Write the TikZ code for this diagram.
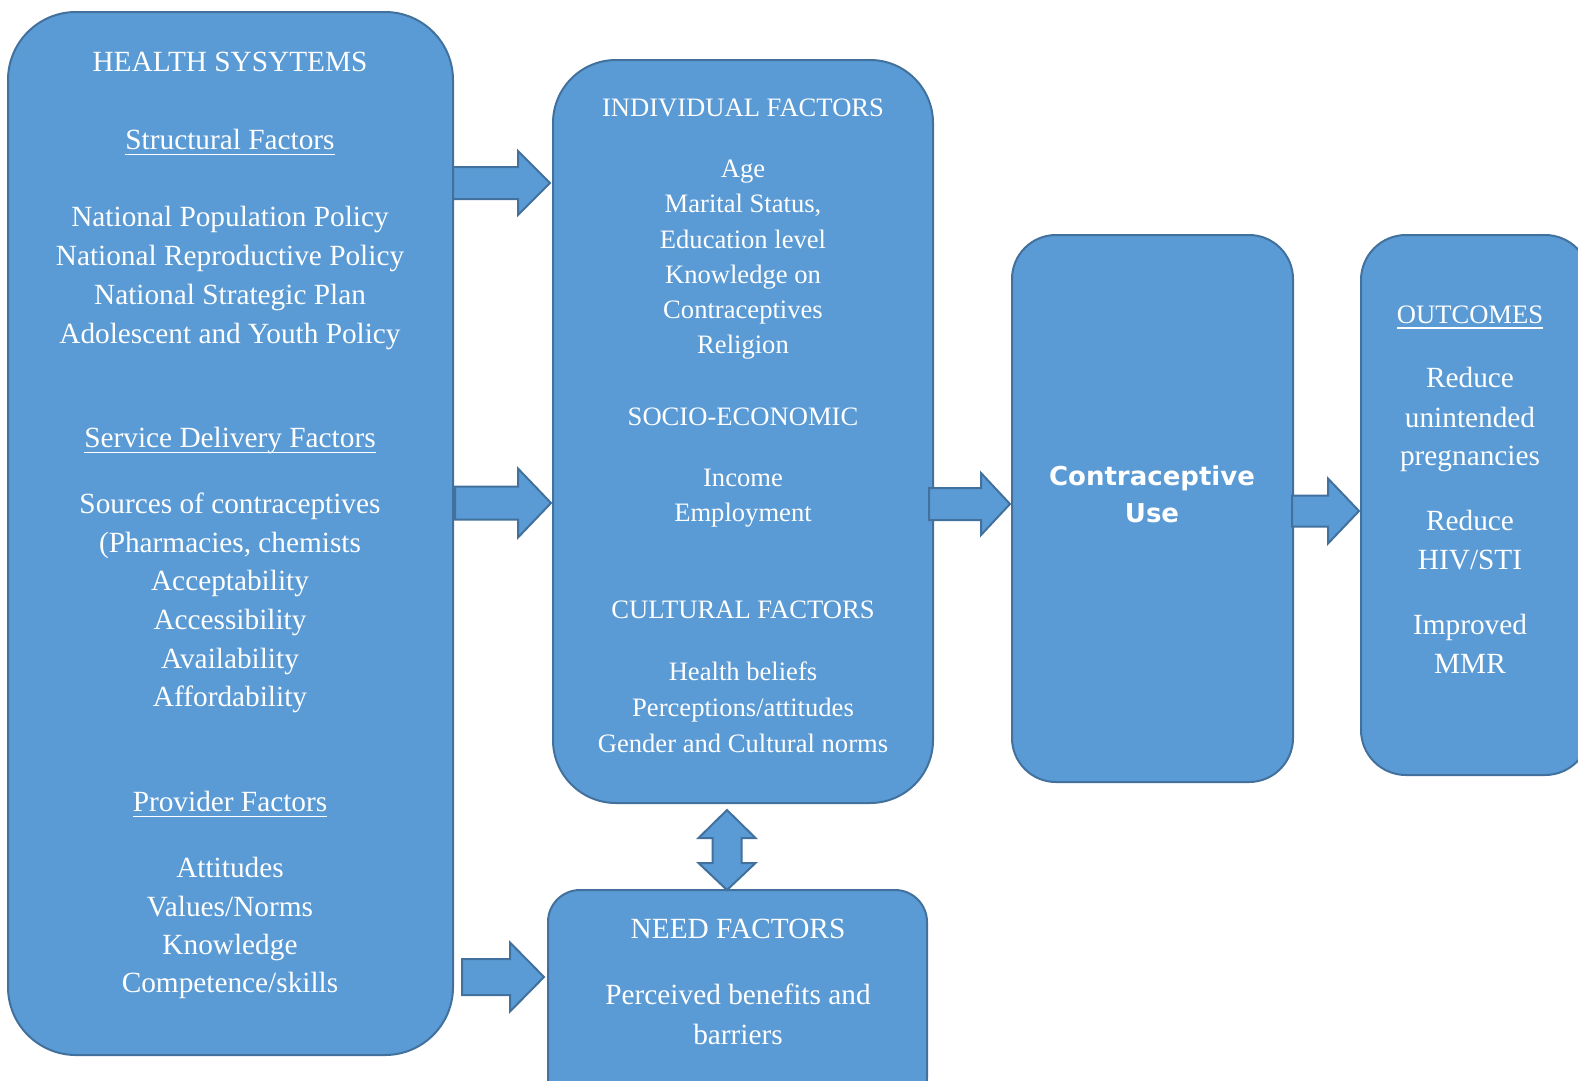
\documentclass[tikz,border=0pt]{standalone}
\usepackage{fontspec}
\setmainfont{Liberation Serif}
\newfontfamily\cufont{DejaVu Sans}
\usetikzlibrary{calc}
\definecolor{boxfill}{HTML}{5B9BD5}
\definecolor{boxline}{HTML}{41719C}
\newcommand\ulx[1]{\setbox0\hbox{#1}\rlap{\rule[-0.2em]{\wd0}{0.055em}}\box0}
\newcommand\hbarrow[5]{\draw[barrow] ($(#1)+(0,-#3)$) -- ($(#2)+(-#5,-#3)$) -- ($(#2)+(-#5,-#4)$) -- (#2) -- ($(#2)+(-#5,#4)$) -- ($(#2)+(-#5,#3)$) -- ($(#1)+(0,#3)$) -- cycle;}
\begin{document}
\begin{tikzpicture}[x=1pt,y=-1pt,
  box/.style={draw=boxline, fill=boxfill, line width=2, inner sep=0, rectangle},
  barrow/.style={draw=boxline, fill=boxfill, line width=2, line join=miter},
  big/.style={font=\fontsize{29.3}{35}\selectfont, text=white, anchor=base, inner sep=0},
  small/.style={font=\fontsize{26.6}{32}\selectfont, text=white, anchor=base, inner sep=0},
  cu/.style={font=\cufont\bfseries\fontsize{26}{32}\selectfont, text=white, anchor=base, inner sep=0}]
\useasboundingbox (0,0) rectangle (1578,1080);
\clip (0,0) rectangle (1578,1080);
\fill[white] (0,0) rectangle (1578,1080);

% boxes
\node[box, rounded corners=68, minimum width=445, minimum height=1043] (hs) at (230.5,533.5) {};
\node[box, rounded corners=63, minimum width=380, minimum height=743] (ind) at (743,431.5) {};
\node[box, rounded corners=32, minimum width=379, minimum height=220] (need) at (737.5,1000) {};
\node[box, rounded corners=44, minimum width=281, minimum height=547] (cuse) at (1152.5,508.5) {};
\node[box, rounded corners=45, minimum width=229, minimum height=540] (out) at (1475.5,505) {};

% health systems texts
\node[big] (hsT) at (230,71.6) {HEALTH SYSYTEMS};
\node[big] (hsS) at (230,149.6) {\ulx{Structural Factors}};
\foreach \t [count=\i] in {National Population Policy, National Reproductive Policy, National Strategic Plan, Adolescent and Youth Policy}
  \node[big] (hsA\i) at (230,{226.6+38.8*(\i-1)}) {\t};
\node[big] (hsD) at (230,447.6) {\ulx{Service Delivery Factors}};
\foreach \t [count=\i] in {Sources of contraceptives, {(Pharmacies, chemists}, Acceptability, Accessibility, Availability, Affordability}
  \node[big] (hsB\i) at (230,{513.6+38.6*(\i-1)}) {\t};
\node[big] (hsP) at (230,811.6) {\ulx{Provider Factors}};
\foreach \t [count=\i] in {Attitudes, Values/Norms, Knowledge, Competence/skills}
  \node[big] (hsC\i) at (230,{877.6+38.4*(\i-1)}) {\t};

% individual factors texts
\node[small] (indT) at (743,116.7) {INDIVIDUAL FACTORS};
\foreach \t [count=\i] in {Age, {Marital Status,}, Education level, Knowledge on, Contraceptives, Religion}
  \node[small] (indA\i) at (743,{177.7+35.2*(\i-1)}) {\t};
\node[small] (indS) at (743,425.7) {SOCIO-ECONOMIC};
\node[small] (indB1) at (743,486.7) {Income};
\node[small] (indB2) at (743,521.7) {Employment};
\node[small] (indC) at (743,618.7) {CULTURAL FACTORS};
\foreach \t [count=\i] in {Health beliefs, Perceptions/attitudes, Gender and Cultural norms}
  \node[small] (indD\i) at (743,{680.7+36*(\i-1)}) {\t};

% need factors
\node[big] (needT) at (738,938.6) {NEED FACTORS};
\node[big] (needA) at (738,1004.6) {Perceived benefits and};
\node[big] (needB) at (738,1044.6) {barriers};

% contraceptive use
\node[cu] (cuA) at (1152,485.5) {Contraceptive};
\node[cu] (cuB) at (1152,522.5) {Use};

% outcomes
\node[small] (outT) at (1470,323.2) {\ulx{OUTCOMES}};
\node[big] (outA1) at (1470,387.6) {Reduce};
\node[big] (outA2) at (1470,427.6) {unintended};
\node[big] (outA3) at (1470,465.6) {pregnancies};
\node[big] (outB1) at (1470,530.6) {Reduce};
\node[big] (outB2) at (1470,569.6) {HIV/STI};
\node[big] (outC1) at (1470,634.6) {Improved};
\node[big] (outC2) at (1470,673.6) {MMR};

% block arrows
\coordinate (a1s) at (453,183);  \coordinate (a1e) at (550,183);
\coordinate (a2s) at (455,503);  \coordinate (a2e) at (551,503);
\coordinate (a3s) at (462,977);  \coordinate (a3e) at (544,977);
\coordinate (a4s) at (929,504);  \coordinate (a4e) at (1010,504);
\coordinate (a5s) at (1292,511); \coordinate (a5e) at (1359,511);
\hbarrow{a1s}{a1e}{16}{32}{32}
\hbarrow{a2s}{a2e}{16.5}{34.5}{33}
\hbarrow{a3s}{a3e}{18}{34.5}{34}
\hbarrow{a4s}{a4e}{16}{31}{29}
\hbarrow{a5s}{a5e}{15.5}{32.5}{31}

% double arrow between individual and need factors
\coordinate (da1) at (727,810);
\coordinate (da2) at (727,890);
\draw[barrow] (da1) -- ($(da1)+(28.5,28)$) -- ($(da1)+(14.5,28)$) -- ($(da2)+(14.5,-27)$) -- ($(da2)+(28.5,-27)$) -- (da2) -- ($(da2)+(-28.5,-27)$) -- ($(da2)+(-14.5,-27)$) -- ($(da1)+(-14.5,28)$) -- ($(da1)+(-28.5,28)$) -- cycle;
\end{tikzpicture}
\end{document}
